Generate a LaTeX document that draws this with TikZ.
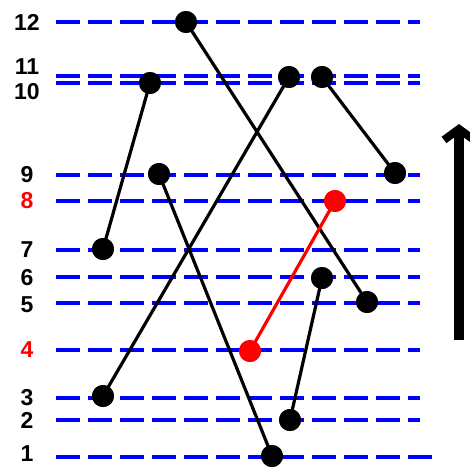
\documentclass[tikz,border=0pt]{standalone}
\usepackage{fontspec}
\setmainfont{Liberation Sans}
\usetikzlibrary{arrows.meta}
\begin{document}
\begin{tikzpicture}[x=1pt,y=-1pt,
  level/.style={draw=blue,line width=4pt,dash pattern=on 24pt off 8pt},
  dot/.style={circle,fill=black,inner sep=0pt,minimum size=22pt},
  rdot/.style={circle,fill=red,inner sep=0pt,minimum size=22pt},
  seg/.style={line width=3.2pt,black},
  rseg/.style={line width=3.2pt,red},
  lab/.style={font=\fontsize{23}{23}\selectfont\bfseries,anchor=center,inner sep=0pt},
]
\useasboundingbox (0,0) rectangle (470,466);
% dashed levels
\foreach \n/\y/\xe in {12/22/420,11/76/420,10/83/420,9/175/420,8/201/420,7/250/420,6/277/420,5/303/420,4/350/420,3/398/420,2/420/420,1/457/432}{
  \coordinate (L\n a) at (56,\y);
  \coordinate (L\n b) at (\xe,\y);
  \draw[level] (L\n a) -- (L\n b);
}
% labels
\node[lab] (t12) at (27,22) {12};
\node[lab] (t11) at (27,67) {11};
\node[lab] (t10) at (27,92) {10};
\node[lab] (t9) at (27,175) {9};
\node[lab,text=red] (t8) at (27,201) {8};
\node[lab] (t7) at (27,250) {7};
\node[lab] (t6) at (27,278) {6};
\node[lab] (t5) at (27,305) {5};
\node[lab,text=red] (t4) at (27,350) {4};
\node[lab] (t3) at (27,398) {3};
\node[lab] (t2) at (27,420) {2};
\node[lab] (t1) at (27,454) {1};
% points
\node[dot] (a1) at (186,22) {};
\node[dot] (a2) at (367,302) {};
\node[dot] (b1) at (150,83) {};
\node[dot] (b2) at (103,249) {};
\node[dot] (c1) at (289,77) {};
\node[dot] (c2) at (103,396) {};
\node[dot] (d1) at (322,77) {};
\node[dot] (d2) at (395,173) {};
\node[dot] (e1) at (159,174) {};
\node[dot] (e2) at (272,456) {};
\node[dot] (f1) at (322,278) {};
\node[dot] (f2) at (290,420) {};
\node[rdot] (r1) at (250,351) {};
\node[rdot] (r2) at (335,201) {};
\draw[seg] (a1.center) -- (a2.center);
\draw[seg] (b1.center) -- (b2.center);
\draw[seg] (c1.center) -- (c2.center);
\draw[seg] (d1.center) -- (d2.center);
\draw[seg] (e1.center) -- (e2.center);
\draw[seg] (f1.center) -- (f2.center);
\draw[rseg] (r1.center) -- (r2.center);
\foreach \p in {a1,a2,b1,b2,c1,c2,d1,d2,e1,e2,f1,f2}{\fill (\p) circle (11);}
\foreach \p in {r1,r2}{\fill[red] (\p) circle (11);}
% arrow
\coordinate (arS) at (459,340);
\coordinate (arE) at (459,124);
\draw[line width=9.5pt,-{Straight Barb[length=11pt,width=30pt,line width=8pt]}] (arS) -- (arE);
\end{tikzpicture}
\end{document}
